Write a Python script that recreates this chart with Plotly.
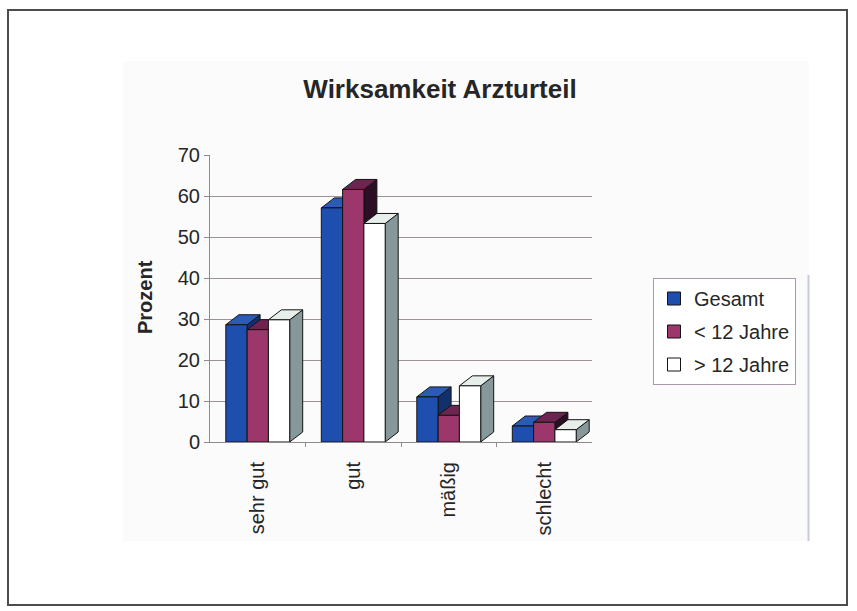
import plotly.graph_objects as go

# ---- data -------------------------------------------------------------
categories = ["sehr gut", "gut", "mäßig", "schlecht"]
series_names = ["Gesamt", "< 12 Jahre", "> 12 Jahre"]
gesamt = [28.6, 57.1, 11.0, 3.9]
unter_12 = [27.4, 61.6, 6.5, 4.8]
ueber_12 = [29.8, 53.3, 13.7, 3.0]
y_tick_values = [0, 10, 20, 30, 40, 50, 60, 70]

# ---- geometry ---------------------------------------------------------
W, H = 857, 611
PL, PR, PT, PB = 210, 592, 155, 442          # plot area in pixels
X_RANGE = (-0.5, 3.5)
Y_RANGE = (0, 70)
px_per_x = (PR - PL) / (X_RANGE[1] - X_RANGE[0])
px_per_y = (PB - PT) / (Y_RANGE[1] - Y_RANGE[0])
DEPTH_X = 13 / px_per_x      # 3D depth shift to the right
DEPTH_Y = 10 / px_per_y      # 3D depth shift upward
BAR_W = 21.3 / px_per_x


def px_x(p):
    return (p - PL) / (PR - PL)


def px_y(p):
    return (PB - p) / (PB - PT)


FONT = "Arial, Liberation Sans, sans-serif"
TEXT = "#262626"
EDGE = "#141414"

styles = [
    dict(front="#1f4fae", top="#2b5bb5", side="#12306c"),
    dict(front="#9b376a", top="#6e2450", side="#2c0f24"),
    dict(front="#ffffff", top="#e6efe9", side="#86989a"),
]


def faces(values, left_offset):
    """Build front, top and side polygons of 3D columns for one series."""
    fx, fy, tx, ty, sx, sy = [], [], [], [], [], []
    for i, v in enumerate(values):
        x0 = i + left_offset
        x1 = x0 + BAR_W
        fx += [x0, x1, x1, x0, x0, None]
        fy += [0, 0, v, v, 0, None]
        tx += [x0, x1, x1 + DEPTH_X, x0 + DEPTH_X, x0, None]
        ty += [v, v, v + DEPTH_Y, v + DEPTH_Y, v, None]
        sx += [x1, x1 + DEPTH_X, x1 + DEPTH_X, x1, x1, None]
        sy += [0, DEPTH_Y, v + DEPTH_Y, v, 0, None]
    return (fx, fy), (tx, ty), (sx, sy)


fig = go.Figure()

all_series = [gesamt, unter_12, ueber_12]
for k, (name, vals, st) in enumerate(zip(series_names, all_series, styles)):
    left = -1.5 * BAR_W + k * BAR_W
    front, top, side = faces(vals, left)
    for (xs, ys), col in ((side, st["side"]), (top, st["top"]), (front, st["front"])):
        fig.add_trace(go.Scatter(
            x=xs, y=ys, mode="lines", fill="toself", fillcolor=col,
            line=dict(color=EDGE, width=1), hoverinfo="skip",
            showlegend=False,
        ))

# legend entries
for name, st in zip(series_names, styles):
    fig.add_trace(go.Scatter(
        x=[None], y=[None], mode="markers", name=name, legendgroup=name,
        marker=dict(symbol="square", size=13, color=st["front"],
                    line=dict(color=EDGE, width=1)),
    ))

shapes = [
    # chart area
    dict(type="rect", xref="paper", yref="paper", layer="below",
         x0=px_x(123), x1=px_x(809), y0=px_y(541), y1=px_y(61),
         fillcolor="#fbfbfb", line=dict(width=0)),
    dict(type="line", xref="paper", yref="paper", layer="below",
         x0=px_x(808.5), x1=px_x(808.5), y0=px_y(541), y1=px_y(275),
         line=dict(color="#c6cdd8", width=2)),
    # outer frame
    dict(type="rect", xref="paper", yref="paper", layer="below",
         x0=px_x(8), x1=px_x(847), y0=px_y(605), y1=px_y(10),
         fillcolor="rgba(0,0,0,0)", line=dict(color="#4d4d4d", width=2)),
]

fig.update_layout(
    width=W, height=H,
    margin=dict(l=PL, r=W - PR, t=PT, b=H - PB, pad=0),
    paper_bgcolor="white",
    plot_bgcolor="rgba(0,0,0,0)",
    font=dict(family=FONT, color=TEXT, size=20),
    title=dict(text="<b>Wirksamkeit Arzturteil</b>", font=dict(size=26, color=TEXT),
               x=440 / W, xref="container", xanchor="center",
               y=1 - 89 / H, yref="container", yanchor="middle"),
    shapes=shapes,
    showlegend=True,
    legend=dict(x=px_x(653), y=px_y(278), xanchor="left", yanchor="top",
                xref="paper", yref="paper", traceorder="grouped",
                tracegroupgap=4,
                bordercolor="#a99aa9", borderwidth=1, bgcolor="#ffffff",
                font=dict(size=20, color=TEXT), itemclick=False),
    annotations=[
        dict(text="<b>Prozent</b>", xref="paper", yref="paper",
             x=px_x(145), y=px_y(297), textangle=-90, showarrow=False,
             xanchor="center", yanchor="middle", font=dict(size=20, color=TEXT)),
    ],
)

fig.update_xaxes(
    range=list(X_RANGE), tickmode="array", tickvals=list(range(len(categories))),
    ticktext=categories, tickangle=-90, ticks="", ticklabelstandoff=11,
    showgrid=False, zeroline=False, showline=True, linecolor="#8f8a90", linewidth=1,
    tickfont=dict(size=20, color=TEXT),
    minor=dict(tickmode="array", tickvals=[0.5, 1.5, 2.5], ticks="outside",
               ticklen=4, tickcolor="#8f8a90", showgrid=False),
)
fig.update_yaxes(
    range=list(Y_RANGE), tickmode="array", tickvals=y_tick_values,
    ticks="outside", ticklen=5, tickcolor="#8f8a90",
    showgrid=True, gridcolor="#9c9399", gridwidth=1, zeroline=False,
    showline=True, linecolor="#8f8a90", linewidth=1,
    tickfont=dict(size=20, color=TEXT),
)

fig.write_html("out.html")
